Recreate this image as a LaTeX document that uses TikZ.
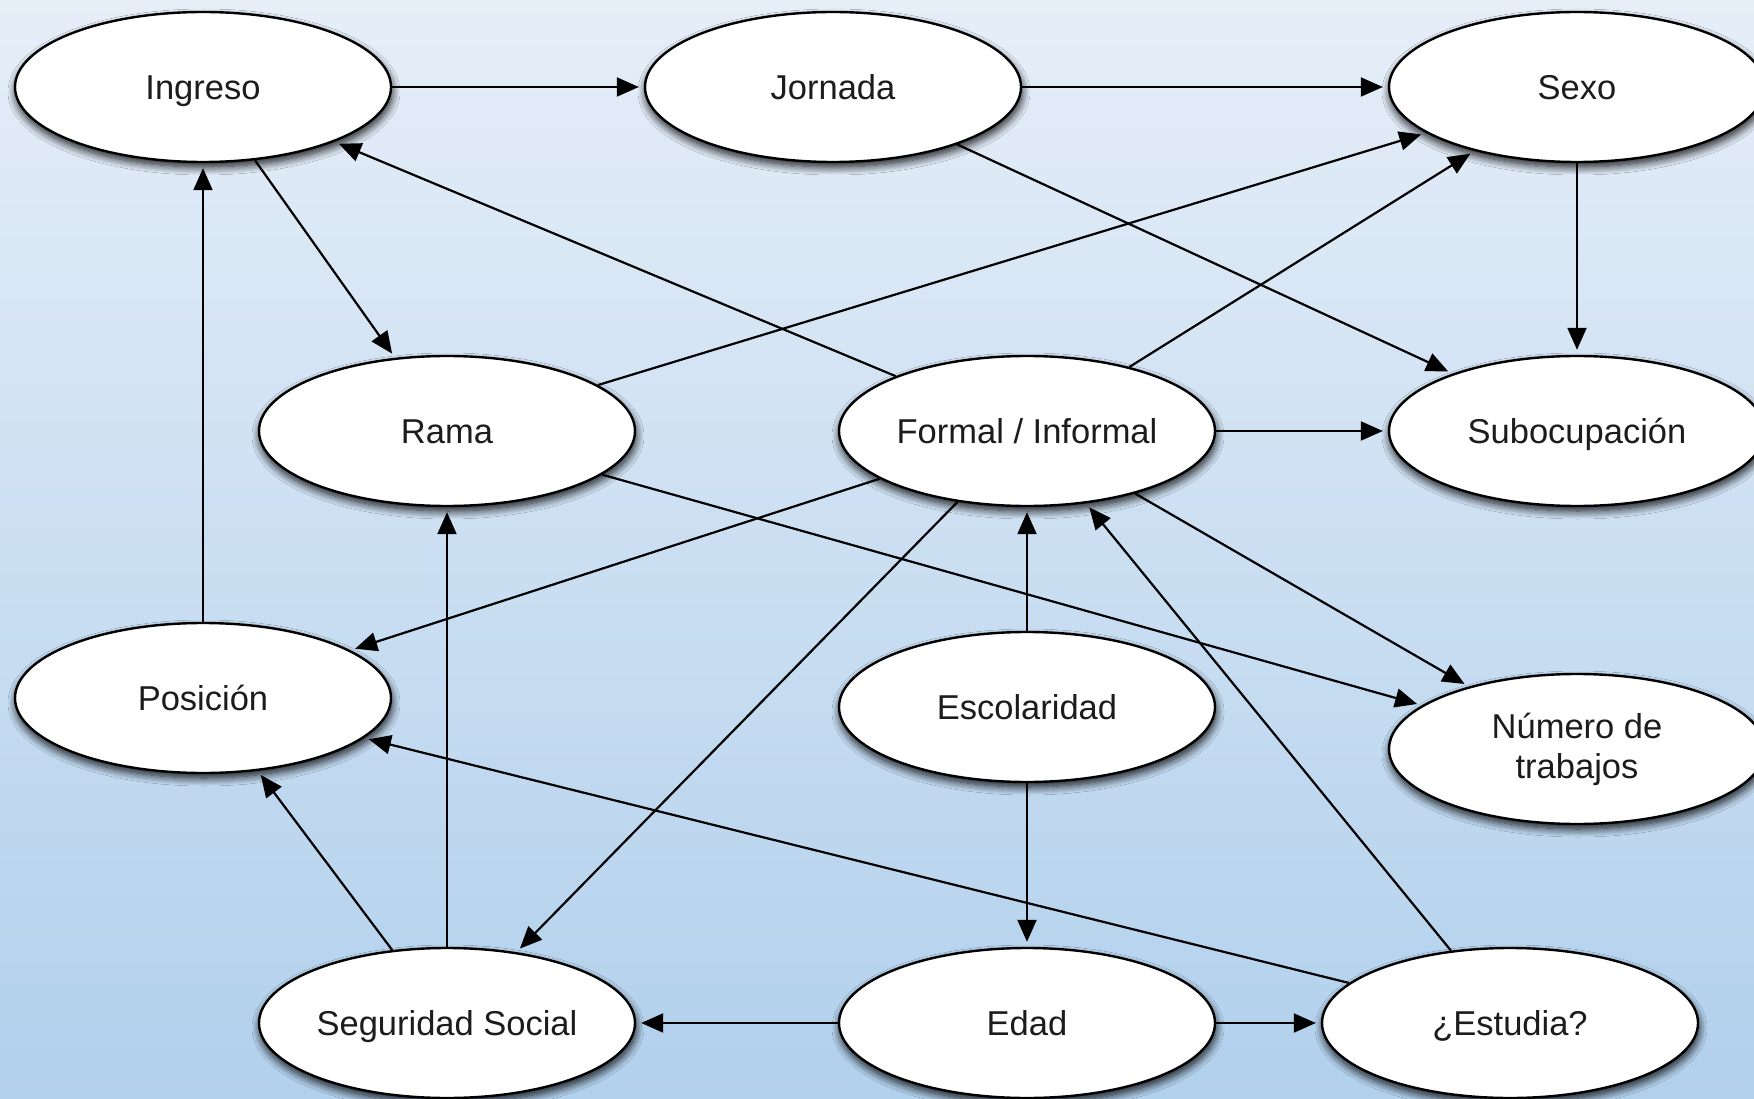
\documentclass[tikz,border=0pt]{standalone}
\usepackage{fontspec}
\setmainfont{Liberation Sans}
\usetikzlibrary{arrows.meta,shapes.geometric,shadows.blur}

\definecolor{bgtop}{RGB}{230,238,248}
\definecolor{bgmid}{RGB}{197,219,240}
\definecolor{bgbot}{RGB}{177,208,236}
\definecolor{inktext}{RGB}{28,28,28}

\tikzset{
  var/.style={
    ellipse, draw=black, line width=2.4pt, fill=white,
    minimum width=376pt, minimum height=150pt, inner sep=0pt,
    text=inktext, align=center,
    font=\fontsize{34.5}{40}\selectfont,
    blur shadow={shadow xshift=1pt, shadow yshift=-5pt,
                 shadow blur radius=8pt, shadow blur steps=12,
                 shadow opacity=90}
  },
  oneline/.style={var, text height=25pt, text depth=0pt},
  link/.style={
    line width=2.2pt, draw=black,
    -{Triangle[length=22pt,width=19pt]}, shorten >=5pt
  }
}

\begin{document}
\begin{tikzpicture}[x=1pt,y=-1pt]
  % backdrop
  \useasboundingbox (0,0) rectangle (1754,1099);
  \shade[top color=bgtop, middle color=bgmid, bottom color=bgbot]
    (0,0) rectangle (1754,1099);

  % variables
  \node[oneline] (ing) at (203,87)   {Ingreso};
  \node[oneline] (jor) at (833,87)   {Jornada};
  \node[oneline] (sex) at (1577,87)  {Sexo};
  \node[oneline] (ram) at (447,431)  {Rama};
  \node[oneline] (for) at (1027,431) {Formal / Informal};
  \node[oneline] (sub) at (1577,431) {Subocupación};
  \node[oneline] (pos) at (203,698)  {Posición};
  \node[oneline] (esc) at (1027,707) {Escolaridad};
  \node[var]     (num) at (1577,749) {Número de\\trabajos};
  \node[oneline] (seg) at (447,1023) {Seguridad Social};
  \node[oneline] (eda) at (1027,1023){Edad};
  \node[oneline] (est) at (1510,1023){¿Estudia?};

  % dependencies
  \draw[link] (ing) -- (jor);
  \draw[link] (jor) -- (sex);
  \draw[link] (ing) -- (ram);
  \draw[link] (for) -- (ing);
  \draw[link] (ram) -- (sex);
  \draw[link] (for) -- (sex);
  \draw[link] (jor) -- (sub);
  \draw[link] (sex) -- (sub);
  \draw[link] (for) -- (sub);
  \draw[link] (for) -- (pos);
  \draw[link] (ram) -- (num);
  \draw[link] (for) -- (num);
  \draw[link] (for) -- (seg);
  \draw[link] (esc) -- (for);
  \draw[link] (esc) -- (eda);
  \draw[link] (est) -- (for);
  \draw[link] (est) -- (pos);
  \draw[link] (pos) -- (ing);
  \draw[link] (seg) -- (pos);
  \draw[link] (seg) -- (ram);
  \draw[link] (eda) -- (seg);
  \draw[link] (eda) -- (est);
\end{tikzpicture}
\end{document}
